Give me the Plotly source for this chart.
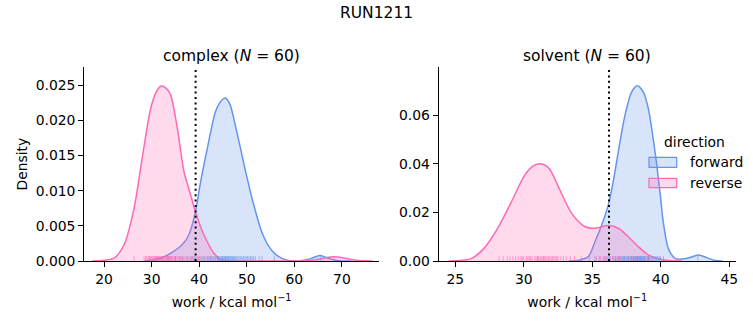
import plotly.graph_objects as go

# ---------------- data ----------------
# KDE curves: x = work (kcal/mol), d = density
complex_fwd_x = [28.5, 30.0, 32.6, 34.7, 36.4, 37.8, 39.2, 40.3, 41.7, 43.4, 44.5, 45.5, 46.4,
                 47.9, 49.6, 51.3, 53.4, 55.5, 57.6, 60.1, 63.3, 65.4, 67.5, 70.0, 72.0]
complex_fwd_d = [0.0, 0.0001, 0.0006, 0.0014, 0.0023, 0.0037, 0.0070, 0.0113, 0.0160, 0.0212, 0.0227,
                 0.0232, 0.0224, 0.0184, 0.0132, 0.0084, 0.0037, 0.0013, 0.0003, 0.0000, 0.0003,
                 0.0008, 0.0003, 0.0000, 0.0]

complex_rev_x = [17.5, 20.0, 22.1, 24.2, 26.3, 28.0, 29.8, 31.0, 32.0, 33.0, 34.0, 35.4, 36.8,
                 38.2, 39.2, 41.0, 43.1, 44.5, 46.5, 50.0, 55.0, 60.0, 63.9, 66.8, 68.5, 70.6,
                 73.1, 76.5]
complex_rev_d = [0.0, 0.0001, 0.0004, 0.0023, 0.0075, 0.0146, 0.0217, 0.0241, 0.0249, 0.0246,
                 0.0236, 0.0189, 0.0127, 0.0094, 0.0070, 0.0037, 0.0011, 0.0002, 0.0, 0.0, 0.0,
                 0.0, 0.0001, 0.0005, 0.0006, 0.0004, 0.0001, 0.0]

solvent_fwd_x = [33.3, 34.0, 34.71, 35.2, 35.69, 36.17, 36.53, 36.9, 37.39, 37.88, 38.28, 38.72,
                 39.09, 39.58, 39.94, 40.18, 40.55, 41.04, 41.5, 42.13, 42.74, 43.35, 43.96, 44.5]
solvent_fwd_d = [0.0, 0.0003, 0.0018, 0.0080, 0.0148, 0.0231, 0.0327, 0.0450, 0.0601, 0.0697,
                 0.0722, 0.0697, 0.0629, 0.0450, 0.0285, 0.0162, 0.0052, 0.0011, 0.0007, 0.0014,
                 0.0025, 0.0014, 0.0002, 0.0]

solvent_rev_x = [24.5, 25.5, 26.2, 27.1, 28.1, 29.1, 30.07, 30.7, 31.2, 31.7, 32.0, 32.7, 33.5,
                 34.47, 35.2, 36.17, 36.9, 37.63, 38.36, 39.09, 39.82, 40.55, 41.5]
solvent_rev_d = [0.0, 0.0003, 0.0011, 0.0052, 0.0135, 0.0244, 0.0354, 0.0392, 0.0401, 0.0390,
                 0.0368, 0.0285, 0.0196, 0.0141, 0.0135, 0.0146, 0.0135, 0.0100, 0.0059, 0.0025,
                 0.0009, 0.0002, 0.0]

# individual work samples (rug)
complex_fwd_samples = [33.5, 35.0, 36.5, 37.5, 38.3, 39.0, 39.6, 40.1, 40.6, 41.0, 41.4, 41.8, 42.1,
                       42.4, 42.7, 43.0, 43.3, 43.5, 43.8, 44.0, 44.2, 44.4, 44.6, 44.8, 45.0, 45.2,
                       45.4, 45.6, 45.8, 46.0, 46.2, 46.4, 46.6, 46.8, 47.0, 47.2, 47.4, 47.6, 47.9,
                       48.1, 48.4, 48.7, 49.0, 49.3, 49.6, 49.9, 50.2, 50.5, 50.8, 51.1, 51.4, 51.8,
                       52.6, 53.2, 55.8, 65.6, 44.9, 45.5, 46.1, 43.9]
complex_rev_samples = [26.3, 28.4, 28.7, 29.0, 29.3, 29.5, 29.8, 30.0, 30.2, 30.4, 30.6, 30.8, 31.0,
                       31.1, 31.3, 31.5, 31.6, 31.8, 32.0, 32.1, 32.3, 32.4, 32.6, 32.8, 33.0, 33.1,
                       33.3, 33.5, 33.7, 33.9, 34.1, 34.3, 34.5, 34.8, 35.0, 35.3, 35.6, 35.9, 36.2,
                       36.6, 37.0, 37.4, 37.9, 38.3, 38.8, 39.3, 39.8, 40.4, 41.0, 41.8, 42.5, 31.2,
                       32.2, 30.9, 33.4, 34.0, 29.6, 36.0, 38.6, 68.3]
solvent_fwd_samples = [35.2, 35.5, 35.8, 36.0, 36.3, 36.5, 36.7, 36.9, 37.0, 37.1, 37.2, 37.3, 37.4,
                       37.5, 37.6, 37.7, 37.8, 37.85, 37.9, 38.0, 38.05, 38.1, 38.15, 38.2, 38.25,
                       38.3, 38.35, 38.4, 38.45, 38.5, 38.55, 38.6, 38.65, 38.7, 38.75, 38.8, 38.9,
                       39.0, 39.05, 39.1, 39.2, 39.3, 39.4, 39.5, 39.6, 39.7, 39.8, 39.9, 40.0, 40.2,
                       37.35, 37.65, 38.0, 38.3, 38.5, 38.85, 39.15, 36.8, 36.2, 42.7]
solvent_rev_samples = [28.2, 28.5, 28.8, 29.0, 29.2, 29.4, 29.6, 29.8, 30.0, 30.2, 30.3, 30.5, 30.6,
                       30.8, 30.9, 31.0, 31.1, 31.2, 31.3, 31.4, 31.5, 31.6, 31.7, 31.8, 31.9, 32.0,
                       32.1, 32.2, 32.3, 32.5, 32.7, 32.9, 33.1, 33.4, 33.7, 34.2, 34.8, 35.3, 35.6,
                       35.9, 36.1, 36.3, 36.5, 36.7, 36.9, 37.1, 37.3, 37.6, 37.9, 38.2, 38.6, 39.1,
                       30.4, 31.05, 31.45, 29.9, 32.4, 36.0, 36.6, 37.0]

# reference lines (dotted)
complex_ref = 39.24
solvent_ref = 36.22

panels = ["complex", "solvent"]
n_samples = [60, 60]
directions = ["forward", "reverse"]
suptitle = "RUN1211"

# ---------------- style ----------------
FONT = "DejaVu Sans"
BLUE = "rgb(100,149,237)"
PINK = "rgb(255,105,180)"
BLUE_F = "rgba(100,149,237,0.25)"
PINK_F = "rgba(255,105,180,0.25)"
BLUE_R = "rgba(100,149,237,0.6)"
PINK_R = "rgba(255,105,180,0.6)"
W, H = 753, 325

fig = go.Figure()

curves = [
    ("x", "y", complex_fwd_x, complex_fwd_d, BLUE, BLUE_F, "forward"),
    ("x", "y", complex_rev_x, complex_rev_d, PINK, PINK_F, "reverse"),
    ("x2", "y2", solvent_fwd_x, solvent_fwd_d, BLUE, BLUE_F, "forward"),
    ("x2", "y2", solvent_rev_x, solvent_rev_d, PINK, PINK_F, "reverse"),
]
for xa, ya, xs, ds, lc, fc, name in curves:
    fig.add_trace(go.Scatter(
        x=xs, y=ds, xaxis=xa, yaxis=ya, mode="lines", name=name,
        line=dict(color=lc, width=1.5, shape="spline", smoothing=0.8),
        fill="tozeroy", fillcolor=fc, showlegend=False, hoverinfo="skip",
    ))

shapes = []
rugs = [
    ("x", "y", complex_fwd_samples, BLUE_R),
    ("x", "y", complex_rev_samples, PINK_R),
    ("x2", "y2", solvent_fwd_samples, BLUE_R),
    ("x2", "y2", solvent_rev_samples, PINK_R),
]
for xa, ya, samples, col in rugs:
    for v in samples:
        shapes.append(dict(type="line", xref=xa, yref=f"{ya} domain", x0=v, x1=v, y0=0, y1=0.025,
                           line=dict(color=col, width=1), layer="above"))

for xa, ya, ref in [("x", "y", complex_ref), ("x2", "y2", solvent_ref)]:
    shapes.append(dict(type="line", xref=xa, yref=f"{ya} domain", x0=ref, x1=ref, y0=0, y1=1,
                       line=dict(color="black", width=2, dash="2px,3.4px"), layer="above"))

# legend (drawn as figure legend patches + real text)
leg_x0, leg_x1 = 649 / W, 676.7 / W
leg_rows = [(157.3, 167.3, BLUE, BLUE_F), (178.3, 187.7, PINK, PINK_F)]
for top, bot, lc, fc in leg_rows:
    shapes.append(dict(type="rect", xref="paper", yref="paper", x0=leg_x0, x1=leg_x1,
                       y0=(H - bot) / H, y1=(H - top) / H, fillcolor=fc,
                       line=dict(color=lc, width=1.2), layer="above"))

annotations = [
    dict(text=suptitle, x=0.5, y=(H - 12.8) / H, xref="paper", yref="paper", showarrow=False,
         xanchor="center", yanchor="middle", font=dict(size=15.5)),
    dict(text="direction", x=694 / W, y=(H - 141.5) / H, xref="paper", yref="paper",
         showarrow=False, xanchor="center", yanchor="middle", font=dict(size=13.9)),
]
for (top, bot, _, _), name in zip(leg_rows, directions):
    annotations.append(dict(text=name, x=688.3 / W, y=(H - (top + bot) / 2) / H, xref="paper",
                            yref="paper", showarrow=False, xanchor="left", yanchor="middle",
                            font=dict(size=13.9)))

dom_l = [84.3 / W, 379 / W]
dom_r = [438.7 / W, 735.7 / W]
dom_y = [(H - 261) / H, (H - 67.3) / H]
for dom, panel, n in [(dom_l, panels[0], n_samples[0]), (dom_r, panels[1], n_samples[1])]:
    annotations.append(dict(text=f"{panel} (<i>N</i> = {n})", x=(dom[0] + dom[1]) / 2,
                            y=(H - 55.8) / H, xref="paper", yref="paper", showarrow=False,
                            xanchor="center", yanchor="middle", font=dict(size=15.5)))

axis_common = dict(showline=True, linecolor="black", linewidth=1.1, ticks="outside", ticklen=5,
                   tickwidth=1.1, tickcolor="black", showgrid=False, zeroline=False,
                   tickfont=dict(size=13.9, color="black"), automargin=False)

xlabel = "work / kcal mol<sup>−1</sup>"
fig.update_layout(
    width=W, height=H, margin=dict(l=0, r=0, t=0, b=0),
    paper_bgcolor="white", plot_bgcolor="white",
    font=dict(family=FONT, color="black"),
    showlegend=False,
    xaxis=dict(domain=dom_l, range=[15.84, 77.8], tickvals=[20, 30, 40, 50, 60, 70],
               anchor="y", title=dict(text=xlabel, font=dict(size=13.9), standoff=11), **axis_common),
    yaxis=dict(domain=dom_y, range=[0, 0.02756], tickvals=[0, 0.005, 0.01, 0.015, 0.02, 0.025],
               tickformat=".3f", anchor="x",
               title=dict(text="Density", font=dict(size=13.9), standoff=4), **axis_common),
    xaxis2=dict(domain=dom_r, range=[23.79, 45.47], tickvals=[25, 30, 35, 40, 45], anchor="y2",
                title=dict(text=xlabel, font=dict(size=13.9), standoff=11), **axis_common),
    yaxis2=dict(domain=dom_y, range=[0, 0.0798], tickvals=[0, 0.02, 0.04, 0.06], tickformat=".2f",
                anchor="x2", **axis_common),
    shapes=shapes,
    annotations=annotations,
)

fig.write_html("out.html")
